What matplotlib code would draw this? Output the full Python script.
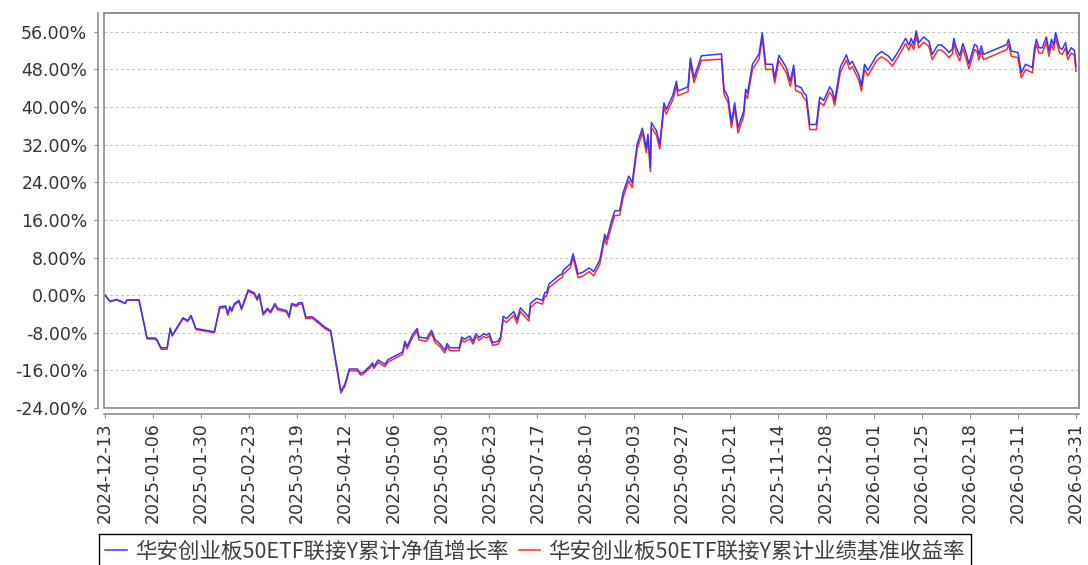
import matplotlib
matplotlib.use("Agg")
import matplotlib.pyplot as plt
from matplotlib.patches import Rectangle

# positions along the x axis (day index, 24 per tick interval)
pos = [
    0, 2.5, 5.8, 10, 11, 17, 21, 25, 26, 28, 31, 32.6, 33.6, 39, 41.3, 43, 45.4,
    54.6, 57.3, 60.3, 61.3, 62.4, 63.3, 64.6, 66.9, 68.2, 69.4, 71.5, 74.5, 76, 77,
    79, 81.2, 82.7, 84.9, 86.2, 90.7, 92, 93.2, 95.7, 96.9, 98.5, 100.3, 103.5,
    106.2, 109.8, 112.7, 117.8, 119.8, 122, 126,
    127.7, 129, 132.3, 133.6, 134.3, 136.4, 139.8, 141.4, 148.6, 149.8, 150.9,
    153.6, 155.9, 156.9, 160.6, 163.1, 164.8, 167.2, 169.7, 170.9, 172.2, 176.9,
    178.2, 179.4, 182.2, 183.9, 185.2, 186.9, 189.2, 190.6, 191.9, 193.6, 196.4,
    197.6, 198.9, 200.5, 204.2, 205.8, 207.5, 211.7, 212.5, 215.5, 218.5, 219.7,
    220.5, 221.8, 227.2, 228.3, 228.8, 232.5, 233.8, 236.3, 238.8, 241.8,
    244.1, 247.1, 249.6, 250.5, 253, 254.6, 257.1, 258.8, 261.6, 263.3, 265.8,
    268.4, 270.4, 271.2, 272.4, 272.9, 275.4, 277.1, 279.2, 280.4, 283.7, 285.4,
    286.2, 291.2, 292.4, 294.2, 297.9, 307.9, 309.2, 311.2, 312.9, 314.5, 316.2,
    319, 320, 320.9, 323.4, 326.7, 328.3, 330, 333.4, 334.5, 336.6,
    340.3, 342.3, 344, 345, 347.8, 349.1, 350.3, 352, 355.3, 357, 359, 362, 363.3,
    364.5, 367.3, 370.3, 371.9, 373.3, 376.6, 377.8, 379.4, 381.1, 385.3, 387.8,
    391.1, 393.3, 396.6, 399.9, 401.5, 402.7, 403.9, 405.2, 406.5, 408.9, 411.5,
    413.2, 416, 417.7, 420.2, 421.5, 423.2, 424, 425.2, 426.9, 428.5, 430.2,
    431.5, 434.3, 435.5, 436.5, 437.7, 438.8, 450.5, 451.3, 452.7, 456, 457.7,
    459.8, 463.2, 464.3, 465.2, 466.5, 468.2, 470.2, 471.5, 472.7, 473.8, 474.8,
    476.8, 478.1, 479.8, 480.9, 482.6, 484.2, 485,
]

# 累计净值增长率 (%)
fund = [
    0.0, -1.3, -0.9, -1.7, -1.0, -1.0, -9.1, -9.1, -9.5, -11.2, -11.2, -7.0, -8.5,
    -4.8, -5.4, -4.3, -7.1, -7.8, -2.5, -2.3, -4.0, -2.4, -3.2, -1.8, -1.1, -2.8,
    -1.4, 1.1, 0.5, -0.8, 0.3, -3.9, -2.8, -3.5, -1.8, -2.8, -3.3, -4.5, -1.8,
    -2.1, -1.6, -1.6, -4.7, -4.6, -5.5, -6.8, -7.5, -20.4, -19.0, -15.7, -15.7,
    -16.6, -16.4, -15.1, -14.4, -15.2, -13.8, -14.7, -13.7, -12.1, -9.8, -10.9,
    -8.4, -7.1, -8.9, -9.2, -7.5, -9.4, -10.3, -11.7, -10.3, -11.2, -11.2, -8.9,
    -9.4, -8.7, -9.8, -8.2, -9.0, -8.2, -8.5, -8.1, -10.1, -9.8, -8.9, -4.5, -5.0,
    -3.5, -5.2, -2.7, -4.7, -1.8, -0.7, -1.1, 0.6, 0.5, 2.4, 4.3, 4.5, 5.2, 6.7,
    8.8, 4.5, 4.9, 5.8,
    5.0, 7.4, 12.9, 11.8, 15.7, 17.9, 18.0, 21.8, 25.3, 23.9, 32.1, 35.5, 31.3,
    34.2, 27.1, 36.7, 35.0, 32.1, 40.9, 39.5, 42.6, 45.5, 43.4, 44.3, 50.4, 46.2,
    50.9, 51.3, 43.8, 42.1, 36.7, 40.9, 35.6, 39.1, 43.8, 42.9, 49.1, 51.3, 55.8,
    49.1, 49.1, 46.2, 51.0,
    48.4, 45.5, 48.9, 44.6, 44.1, 43.0, 42.5, 36.3, 36.3, 42.1, 41.4, 44.3, 43.4,
    41.4, 48.5, 51.1, 49.1, 49.7, 46.7, 44.5, 49.1, 47.8, 50.9, 51.8, 50.9, 49.8,
    52.1, 54.6, 53.2, 54.6, 53.3, 56.2, 53.7, 54.9, 54.0,
    51.2, 53.2, 53.2, 52.3, 51.6, 52.3, 54.6, 52.6, 50.9, 53.5, 51.3, 49.2, 53.3,
    53.0, 51.1, 53.0, 51.2, 53.3, 54.4, 51.9, 51.6, 47.3, 49.1, 48.4, 52.6, 54.4,
    52.6, 52.6, 54.9, 51.9, 54.4, 53.2, 55.8, 52.6, 52.3, 53.7, 51.2, 52.6, 52.1,
    48.7,
]

# 累计业绩基准收益率 (%)
bench = [
    0.0, -1.4, -1.0, -1.8, -1.1, -1.1, -9.3, -9.4, -9.7, -11.5, -11.5, -7.2, -8.7,
    -5.0, -5.6, -4.5, -7.3, -8.0, -2.8, -2.6, -4.3, -2.7, -3.5, -2.1, -1.4, -3.1,
    -1.7, 0.8, 0.2, -1.1, 0.0, -4.2, -3.1, -3.8, -2.1, -3.1, -3.6, -4.8, -2.1,
    -2.4, -1.9, -1.9, -5.0, -4.9, -5.8, -7.1, -7.8, -20.8, -19.4, -16.1, -16.1,
    -17.0, -16.8, -15.5, -14.8, -15.6, -14.3, -15.2, -14.2, -12.6, -10.3, -11.4,
    -9.0, -7.7, -9.5, -9.8, -8.1, -10.0, -10.9, -12.3, -10.9, -11.8, -11.8, -9.5,
    -10.0, -9.3, -10.4, -8.8, -9.6, -8.8, -9.1, -8.7, -10.7, -10.4, -9.5, -5.2,
    -5.8, -4.3, -6.0, -3.5, -5.5, -2.6, -1.5, -1.9, -0.2, -0.3, 1.6, 3.5, 3.7,
    4.4, 5.9, 8.0, 3.7, 4.1, 5.0,
    4.1, 6.5, 11.9, 10.8, 14.7, 16.9, 17.0, 20.8, 24.3, 22.9, 31.1, 34.5, 30.3,
    33.2, 26.3, 35.7, 34.0, 31.1, 39.9, 38.5, 41.6, 44.5, 42.4, 43.3, 49.4, 45.2,
    49.9, 50.2, 42.7, 41.0, 35.6, 39.8, 34.5, 38.0, 42.7, 41.8, 48.0, 50.2, 54.7,
    48.0, 48.0, 45.1, 49.9,
    47.3, 44.4, 47.8, 43.5, 43.0, 41.9, 41.4, 35.2, 35.2, 41.0, 40.3, 43.2, 42.3,
    40.3, 47.4, 50.0, 48.0, 48.6, 45.6, 43.4, 48.0, 46.7, 49.8, 50.7, 49.8, 48.7,
    51.0, 53.5, 52.1, 53.5, 52.2, 55.1, 52.6, 53.8, 52.9,
    50.1, 52.1, 52.1, 51.2, 50.5, 51.2, 53.5, 51.5, 49.8, 52.4, 50.2, 48.1, 52.2,
    51.9, 50.0, 51.9, 50.1, 52.2, 53.3, 50.8, 50.5, 46.2, 48.0, 47.3, 51.5, 53.3,
    51.5, 51.5, 53.8, 50.8, 53.3, 52.1, 54.7, 51.5, 51.2, 52.6, 50.1, 51.5, 51.0,
    47.6,
]

tick_labels = [
    "2024-12-13", "2025-01-06", "2025-01-30", "2025-02-23", "2025-03-19",
    "2025-04-12", "2025-05-06", "2025-05-30", "2025-06-23", "2025-07-17",
    "2025-08-10", "2025-09-03", "2025-09-27", "2025-10-21", "2025-11-14",
    "2025-12-08", "2026-01-01", "2026-01-25", "2026-02-18", "2026-03-11",
    "2026-03-31",
]
tick_pos = [24 * i for i in range(20)] + [485]
y_ticks = list(range(-24, 57, 8))

series_names = ["华安创业板50ETF联接Y累计净值增长率", "华安创业板50ETF联接Y累计业绩基准收益率"]

fig = plt.figure(figsize=(10.88, 5.65), dpi=100)
ax = fig.add_axes([104 / 1088, 1 - 408 / 565, 975 / 1088, 395 / 565])

line_bench, = ax.plot(pos, bench, color="#ff2a2a", lw=1.1, zorder=3)
line_fund, = ax.plot(pos, fund, color="#3535ff", lw=1.1, zorder=4)

ax.set_xlim(-0.5, 486.5)
ax.set_ylim(-24, 60)
ax.set_yticks(y_ticks)
ax.set_yticklabels([f"{v:.2f}%" for v in y_ticks])
ax.set_xticks(tick_pos)
ax.set_xticklabels(tick_labels)

ax.grid(axis="y", color="#c4c4c4", lw=0.8, ls=(0, (2.5, 2.5)))
ax.set_axisbelow(True)

frame_color = "#8c8c8c"
for side in ("left", "bottom"):
    ax.spines[side].set_position(("outward", 4))
    ax.spines[side].set_color(frame_color)
    ax.spines[side].set_linewidth(1.2)
for side in ("top", "right"):
    ax.spines[side].set_color(frame_color)
    ax.spines[side].set_linewidth(1.2)
ax.add_patch(Rectangle((0, 0), 1, 1, transform=ax.transAxes, fill=False,
                       edgecolor=frame_color, lw=1.2, clip_on=False, zorder=5))

ax.tick_params(axis="both", colors=frame_color, labelcolor="#333333",
               labelsize=12.5, length=3)
ax.tick_params(axis="y", pad=5)
ax.tick_params(axis="x", pad=3, labelrotation=90)

leg = fig.legend([line_fund, line_bench], series_names, ncol=2,
                 loc="upper left", bbox_to_anchor=(99 / 1088, 1 - 534 / 565),
                 bbox_transform=fig.transFigure, borderaxespad=0,
                 prop={"family": ["Noto Sans CJK SC", "DejaVu Sans"], "size": 15.5},
                 handlelength=1.0, handletextpad=0.35, columnspacing=0.5,
                 borderpad=0.3, fancybox=False, framealpha=1, edgecolor="black")
leg.get_frame().set_linewidth(1.0)
for text in leg.get_texts():
    text.set_color("#404040")

fig.savefig("out.png", dpi=100)
